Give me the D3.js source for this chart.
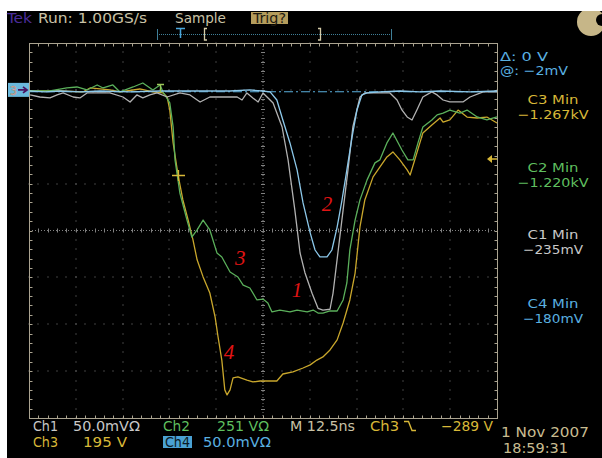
<!DOCTYPE html>
<html>
<head>
<meta charset="utf-8">
<script src="https://cdn.jsdelivr.net/npm/d3@7"></script>
<style>
    body { margin: 0; background: #ffffff; }
    svg { display: block; }
</style>
</head>
<body>
<div id="canvas"></div>
<script>
"use strict"

/* Scope screen capture: four channels, 10 x 8 divisions, M 12.5ns */

/* Configuration variables: drawing */
let svgWidth = 602;
let svgHeight = 458;
let screen = { left: 29, right: 497, top: 43, bottom: 418 };

/* Channel settings */
let channelNames = ["Ch1", "Ch2", "Ch3", "Ch4"];
let channelPerDiv = [50, 251, 195, 50];   // mV, V, V, mV per division
let channelColors = ["#b2b2b2", "#5bb05b", "#c9a72c", "#8cc8ea"];
let groundDiv = 3;       // every ground marker sits 3 div above centre
let nsPerDiv = 12.5;

/* Traces: [time from left edge (ns), level (mV or V)] */
let ch1Trace = [
    [0.3, -5.4], [2.9, -7.6], [5.6, -8.6], [7.5, -5.4], [9.1, -3.3], [11.8, -7.6],
    [13.6, -8.6], [15.5, -3.3], [19.0, -3.3], [21.6, -3.3], [25.1, -7.6], [27.0, -12.9],
    [28.8, -5.4], [30.4, -8.6], [32.3, -5.4], [34.2, -3.3], [36.9, -7.6], [40.3, -3.3],
    [43.0, -5.4], [45.7, -12.9], [48.3, -7.6], [52.9, -7.6], [55.6, -7.6], [56.9, -10.8],
    [58.2, -3.3], [59.8, -8.6], [61.2, -12.9], [62.5, -3.3], [65.2, -14.0], [67.6, -39.6],
    [69.2, -74.8], [71.0, -128], [72.4, -174], [73.7, -195], [75.6, -217], [77.2, -233],
    [78.5, -235], [80.4, -234], [81.2, -217], [82.5, -174], [83.9, -128], [85.2, -85.4],
    [86.5, -39.6], [88.4, -7.6], [89.7, -3.3], [93.7, -3.3], [96.4, -3.3], [98.3, -10.8],
    [99.6, -21.4], [101.0, -28.9], [102.3, -32.1], [103.6, -21.4], [105.2, -7.6], [107.6, -2.2],
    [109.0, -5.4], [110.6, -10.8], [112.4, -12.9], [115.9, -12.9], [117.8, -7.6], [121.3, -2.2],
    [125.0, -2.2]
];

let ch2Trace = [
    [0, -5.9], [5.6, -5.9], [10.1, 10.2], [12.8, 15.5], [15.5, -0.5], [18.2, 26.2],
    [19.8, 10.2], [22.4, 26.2], [24.3, -11.2], [27.8, 15.5], [30.4, 36.9], [33.1, -0.5],
    [35.0, 26.2], [35.8, -11.2], [37.6, -70], [38.5, -199], [39.0, -375], [40.3, -552],
    [42.2, -697], [43.5, -788], [44.9, -750], [46.5, -697], [48.3, -750], [50.2, -873],
    [51.5, -895], [53.7, -975], [55.8, -1002], [57.2, -1045], [59.0, -1061], [60.9, -1125],
    [62.5, -1120], [63.8, -1141], [64.9, -1189], [67.0, -1179], [69.7, -1189], [71.6, -1179],
    [74.3, -1189], [75.9, -1179], [77.2, -1195], [78.5, -1195], [80.4, -1184], [82.3, -1184],
    [83.9, -1125], [84.9, -1034], [85.7, -857], [87.1, -697], [88.4, -589], [90.3, -482],
    [92.4, -391], [93.7, -375], [95.6, -284], [97.2, -231], [99.6, -322], [101.2, -375],
    [102.6, -375], [103.9, -284], [105.2, -199], [107.6, -161], [109.0, -134], [110.6, -124],
    [112.4, -108], [115.1, -124], [117.0, -108], [119.7, -145], [122.3, -161], [125.0, -145]
];

let ch3Trace = [
    [0, -4.6], [8.3, -4.6], [14.4, -8.7], [16.3, 7.9], [21.6, -0.4], [24.3, -8.7],
    [29.6, 3.7], [33.1, -8.7], [35.8, -12.9], [36.9, -29.5], [37.6, -84], [38.5, -221],
    [39.8, -354], [41.1, -458], [42.5, -541], [43.8, -624], [44.9, -707], [46.5, -778],
    [48.3, -845], [49.7, -944], [50.5, -1028], [51.5, -1124], [52.3, -1248], [52.9, -1269],
    [53.7, -1248], [54.5, -1198], [55.8, -1194], [58.2, -1207], [59.8, -1215], [61.7, -1211],
    [66.2, -1211], [67.8, -1182], [70.5, -1173], [73.2, -1157], [75.1, -1144], [76.9, -1124],
    [78.5, -1111], [80.4, -1082], [82.3, -1040], [83.9, -970], [85.7, -874], [87.1, -762],
    [88.4, -570], [89.7, -458], [91.9, -362], [93.7, -321], [95.6, -279], [97.2, -258],
    [99.1, -292], [101.0, -333], [101.8, -354], [103.6, -262], [105.2, -179], [107.6, -146],
    [109.8, -117], [110.6, -134], [112.4, -125], [114.6, -84], [117.0, -113], [119.7, -117],
    [122.3, -113], [125.0, -138]
];

let ch4Trace = [
    [0, -1.2], [4.3, -2.2], [8.3, -1.2], [13.6, -2.2], [19.0, -1.2], [27.0, -2.2],
    [35.0, -1.2], [45.7, -1.2], [53.7, -1.2], [59.0, -0.1], [62.2, -1.2], [64.4, -2.2],
    [66.2, -10.8], [67.8, -32.1], [69.7, -56.6], [71.6, -85.4], [73.2, -120.6], [75.1, -152.6],
    [76.4, -170.8], [77.7, -178.2], [79.6, -178.2], [80.9, -170.8], [82.3, -146.3], [83.6, -117.5],
    [84.9, -85.4], [86.3, -50.2], [87.6, -21.4], [88.9, -5.4], [90.3, -3.3], [93.7, -2.2],
    [99.1, -1.2], [104.4, -2.2], [109.8, -1.2], [117.8, -2.2], [125.0, -1.2]
];

let traces = [ch1Trace, ch2Trace, ch3Trace, ch4Trace];
let drawOrder = [2, 1, 0, 3];   // yellow under green under grey under blue

/* Readouts */
let measureNames = ["C3 Min", "C2 Min", "C1 Min", "C4 Min"];
let measureValues = ["\u22121.267kV", "\u22121.220kV", "\u2212235mV", "\u2212180mV"];
let cursorDelta = "\u0394: 0 V";
let cursorLevel = "@: \u22122mV";
let cursorMv = -2;
let triggerLevel = "\u2212289 V";
let dateText = "1 Nov 2007";
let timeText = "18:59:31";

/* Fonts */
let scopeFont = "'DejaVu Sans Condensed', 'DejaVu Sans', sans-serif";

/* Create drawing canvas */
let svg = d3.select("#canvas")
    .append("svg")
    .attr("width", svgWidth)
    .attr("height", svgHeight);

svg.append("rect")
    .attr("x", 7)
    .attr("y", 11)
    .attr("width", svgWidth - 7)
    .attr("height", svgHeight - 11)
    .attr("fill", "#000000");

/* Scales */
let xScale = d3.scaleLinear()
    .domain([0, 10 * nsPerDiv])
    .range([screen.left, screen.right]);

let divX = d3.scaleLinear().domain([0, 10]).range([screen.left, screen.right]);
let divY = d3.scaleLinear().domain([-4, 4]).range([screen.bottom, screen.top]);

function channelScale(i) {
    let s = channelPerDiv[i];
    return d3.scaleLinear()
        .domain([(-4 - groundDiv) * s, (4 - groundDiv) * s])
        .range([screen.bottom, screen.top]);
}

/* Graticule */
let gridColor = "#808080";
let frameColor = "#aaa390";
let grid = svg.append("g");
let fifthsX = d3.range(0, 51).map(function(d) { return d / 5; });
let fifthsY = d3.range(0, 41).map(function(d) { return -4 + d / 5; });

// dotted division lines
for (let i = 1; i < 10; i++) {
    if (i === 5) continue;
    grid.selectAll(null)
        .data(fifthsY)
        .join("rect")
        .attr("x", Math.round(divX(i)) - 0.5)
        .attr("y", function(d) { return Math.round(divY(d)) - 0.5; })
        .attr("width", 1)
        .attr("height", 1)
        .attr("fill", gridColor);
}
for (let j = -3; j <= 3; j++) {
    if (j === 0) continue;
    grid.selectAll(null)
        .data(fifthsX)
        .join("rect")
        .attr("x", function(d) { return Math.round(divX(d)) - 0.5; })
        .attr("y", Math.round(divY(j)) - 0.5)
        .attr("width", 1)
        .attr("height", 1)
        .attr("fill", gridColor);
}

// centre cross: fine dots plus minor ticks
grid.append("line")
    .attr("x1", screen.left).attr("x2", screen.right)
    .attr("y1", divY(0)).attr("y2", divY(0))
    .attr("stroke", gridColor).attr("stroke-dasharray", "1,2");
grid.append("line")
    .attr("x1", divX(5)).attr("x2", divX(5))
    .attr("y1", screen.top).attr("y2", screen.bottom)
    .attr("stroke", gridColor).attr("stroke-dasharray", "1,2");
grid.selectAll(null)
    .data(fifthsX)
    .join("line")
    .attr("x1", function(d) { return Math.round(divX(d)) + 0.5; })
    .attr("x2", function(d) { return Math.round(divX(d)) + 0.5; })
    .attr("y1", divY(0) - 2).attr("y2", divY(0) + 2)
    .attr("stroke", gridColor);
grid.selectAll(null)
    .data(fifthsY)
    .join("line")
    .attr("y1", function(d) { return Math.round(divY(d)) + 0.5; })
    .attr("y2", function(d) { return Math.round(divY(d)) + 0.5; })
    .attr("x1", divX(5) - 2).attr("x2", divX(5) + 2)
    .attr("stroke", gridColor);

// frame and edge ticks
grid.append("rect")
    .attr("x", screen.left + 0.5)
    .attr("y", screen.top + 0.5)
    .attr("width", screen.right - screen.left)
    .attr("height", screen.bottom - screen.top)
    .attr("fill", "none")
    .attr("stroke", frameColor);

[screen.top, screen.bottom].forEach(function(edge) {
    let dir = edge === screen.top ? 1 : -1;
    grid.selectAll(null)
        .data(fifthsX)
        .join("line")
        .attr("x1", function(d) { return Math.round(divX(d)) + 0.5; })
        .attr("x2", function(d) { return Math.round(divX(d)) + 0.5; })
        .attr("y1", edge + 0.5)
        .attr("y2", edge + 0.5 + dir * 3)
        .attr("stroke", frameColor);
});
[screen.left, screen.right].forEach(function(edge) {
    let dir = edge === screen.left ? 1 : -1;
    grid.selectAll(null)
        .data(fifthsY)
        .join("line")
        .attr("y1", function(d) { return Math.round(divY(d)) + 0.5; })
        .attr("y2", function(d) { return Math.round(divY(d)) + 0.5; })
        .attr("x1", edge + 0.5)
        .attr("x2", edge + 0.5 + dir * 3)
        .attr("stroke", frameColor);
});

/* Cursor line (dash-dot) at the Ch4 cursor level */
svg.append("line")
    .attr("x1", screen.left).attr("x2", screen.right)
    .attr("y1", channelScale(3)(cursorMv)).attr("y2", channelScale(3)(cursorMv))
    .attr("stroke", "#5aaedc")
    .attr("stroke-width", 1.2)
    .attr("stroke-dasharray", "9,3,2,3");

/* Traces */
drawOrder.forEach(function(i) {
    let yScale = channelScale(i);
    let line = d3.line()
        .x(function(d) { return xScale(d[0]); })
        .y(function(d) { return yScale(d[1]); });
    svg.append("path")
        .datum(traces[i])
        .attr("d", line)
        .attr("fill", "none")
        .attr("stroke", channelColors[i])
        .attr("stroke-width", 1.3)
        .attr("stroke-linejoin", "round");
});

/* Markers on the screen */
// ground reference marker at left
let gy = divY(groundDiv);
svg.append("rect")
    .attr("x", 8).attr("y", gy - 7)
    .attr("width", 21).attr("height", 14)
    .attr("fill", "#6ab8dc");
svg.append("text")
    .attr("x", 10).attr("y", gy + 5)
    .style("font-family", scopeFont)
    .style("font-size", "12px")
    .attr("fill", "#d9a6e6")
    .attr("stroke", "#b08a30")
    .attr("stroke-width", 0.4)
    .text("3");
svg.append("path")
    .attr("d", "M18," + gy + " H26 M23," + (gy - 3) + " L27," + gy + " L23," + (gy + 3))
    .attr("fill", "none")
    .attr("stroke", "#4a1260")
    .attr("stroke-width", 1.8);

// trigger position "T" on the trace
svg.append("path")
    .attr("d", "M157,84.5 H164 M160.5,84.5 V93")
    .attr("stroke", "#9cc85a")
    .attr("stroke-width", 1.3)
    .attr("fill", "none");

// trigger level cross on the falling edge
svg.append("path")
    .attr("d", "M172,175.5 H185 M178.5,170 V181")
    .attr("stroke", "#d8b838")
    .attr("stroke-width", 1.3)
    .attr("fill", "none");

// trigger level arrow on the right edge
svg.append("path")
    .attr("d", "M487,159 L492,155 L492,163 Z")
    .attr("fill", "#d8b838");
svg.append("line")
    .attr("x1", 491).attr("x2", 497)
    .attr("y1", 159).attr("y2", 159)
    .attr("stroke", "#d8b838").attr("stroke-width", 1.5);

/* Trace numbers (red italic) placed in time / division units */
let traceLabels = [
    { text: "1", t: 71.6, div: -1.27 },
    { text: "2", t: 79.6, div: 0.57 },
    { text: "3", t: 56.4, div: -0.59 },
    { text: "4", t: 53.4, div: -2.59 }
];
svg.selectAll(".trace-label")
    .data(traceLabels)
    .join("text")
    .attr("class", "trace-label")
    .attr("x", function(d) { return xScale(d.t); })
    .attr("y", function(d) { return divY(d.div) + 7; })
    .attr("text-anchor", "middle")
    .style("font-family", "'Liberation Serif', serif")
    .style("font-style", "italic")
    .style("font-size", "21px")
    .attr("fill", "#e01414")
    .text(function(d) { return d.text; });

/* Text helper: fixed widths to mimic the scope font */
function scopeText(x, y, str, color, width, size, anchor) {
    let t = svg.append("text")
        .attr("x", x)
        .attr("y", y)
        .attr("text-anchor", anchor || "start")
        .style("font-family", scopeFont)
        .style("font-size", (size || 14) + "px")
        .attr("fill", color)
        .text(str);
    if (width) {
        t.attr("textLength", width).attr("lengthAdjust", "spacingAndGlyphs");
    }
    return t;
}

/* Top status line */
scopeText(7, 23, "Tek", "#4b2c9a", 25);
scopeText(38, 23, "Run: 1.00GS/s", "#c9c2a6", 109);
scopeText(175, 23, "Sample", "#c9c2a6", 51);
svg.append("rect")
    .attr("x", 251).attr("y", 12)
    .attr("width", 37).attr("height", 12)
    .attr("fill", "#b49c5c");
scopeText(253, 23, "Trig?", "#1e1a10", 33);

// record view bar
svg.append("line")
    .attr("x1", 157).attr("x2", 392)
    .attr("y1", 34.5).attr("y2", 34.5)
    .attr("stroke", "#3f7f98")
    .attr("stroke-dasharray", "1,1");
svg.append("path")
    .attr("d", "M157.5,29 V40 M391.5,29 V40")
    .attr("stroke", "#3f7f98");
svg.append("path")
    .attr("d", "M176,28.5 H185 M180.5,28.5 V38")
    .attr("stroke", "#4aa6dc")
    .attr("stroke-width", 1.5)
    .attr("fill", "none");
svg.append("path")
    .attr("d", "M207,28.5 H204.5 V40 H207 M318,28.5 H320.5 V40 H318")
    .attr("stroke", "#d4cba8")
    .attr("stroke-width", 1.3)
    .attr("fill", "none");

// acquisition indicator
svg.append("circle")
    .attr("cx", 591).attr("cy", 22).attr("r", 14)
    .attr("fill", "#c6b688");
svg.append("rect")
    .attr("x", 570).attr("y", 0).attr("width", 32).attr("height", 11)
    .attr("fill", "#ffffff");
svg.append("circle")
    .attr("cx", 602).attr("cy", 20).attr("r", 6)
    .attr("fill", "#000000");

/* Right side readouts */
scopeText(500, 61, cursorDelta, "#5ab0e0", 48, 12.5);
scopeText(500, 75, cursorLevel, "#5ab0e0", 68, 12.5);

let readoutY = [104, 172, 239, 308];
let readoutColors = ["#d8b838", "#5fbf5f", "#c8c8c8", "#5ab0e0"];
measureNames.forEach(function(name, i) {
    scopeText(553, readoutY[i], name, readoutColors[i], 51, 12.5, "middle");
    scopeText(553, readoutY[i] + 15, measureValues[i], readoutColors[i],
        measureValues[i].length > 7 ? 71 : 60, 12.5, "middle");
});

/* Bottom readout */
scopeText(33, 431, channelNames[0], "#c8c8c8", 25);
scopeText(73, 431, channelPerDiv[0].toFixed(1) + "mV\u03a9", "#c8c8c8", 67);
scopeText(163, 431, channelNames[1], "#5fbf5f", 27);
scopeText(217, 431, channelPerDiv[1] + " V\u03a9", "#5fbf5f", 52);
scopeText(290, 431, "M " + nsPerDiv + "ns", "#c9c2a6", 65);
scopeText(370, 431, channelNames[2], "#d8b838", 29);
svg.append("path")
    .attr("d", "M404,421.5 H408.5 L412,430.5 H416")
    .attr("stroke", "#d8b838")
    .attr("stroke-width", 1.4)
    .attr("fill", "none");
scopeText(441, 431, triggerLevel, "#d8b838", 52);
scopeText(501, 437, dateText, "#c8bc90", 88);

scopeText(33, 447, channelNames[2], "#d8b838", 25);
scopeText(83, 447, channelPerDiv[2] + " V", "#d8b838", 44);
svg.append("rect")
    .attr("x", 163).attr("y", 436)
    .attr("width", 29).attr("height", 12)
    .attr("fill", "#4aa2d4");
scopeText(165, 447, channelNames[3], "#0c1a24", 25);
scopeText(203, 447, channelPerDiv[3].toFixed(1) + "mV\u03a9", "#5ab0e0", 68);
scopeText(503, 453, timeText, "#c8bc90", 65);
</script>
</body>
</html>
